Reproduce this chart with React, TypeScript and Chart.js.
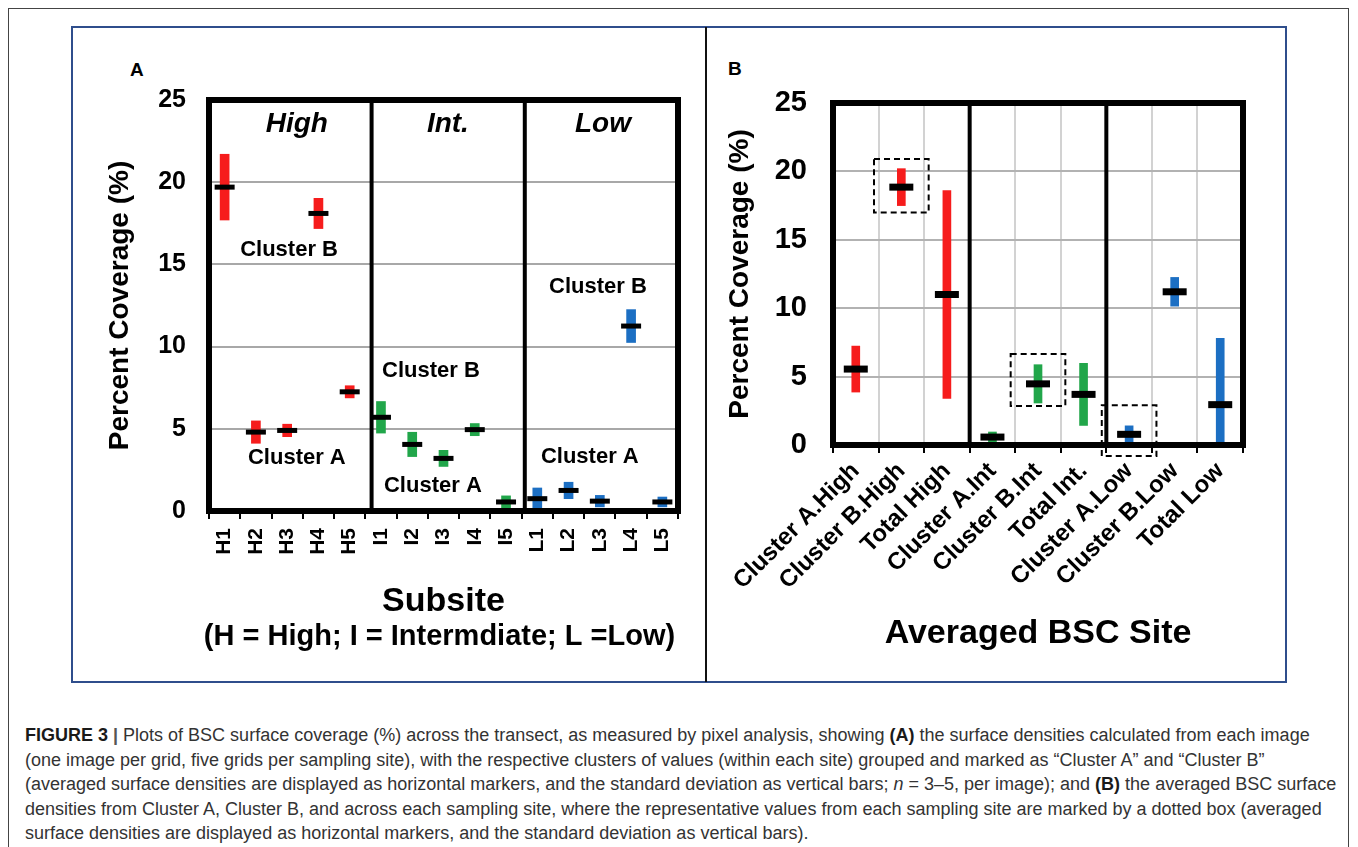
import React, { useEffect, useRef } from "react";
import { Chart, registerables } from "chart.js";

Chart.register(...registerables);

const FONT = "'Liberation Sans', Arial, Helvetica, sans-serif";

// ---------- Panel A data (per subsite) ----------
const subsites = ["H1", "H2", "H3", "H4", "H5", "I1", "I2", "I3", "I4", "I5", "L1", "L2", "L3", "L4", "L5"];
const subsiteMeans = [19.7, 4.8, 4.9, 18.1, 7.25, 5.7, 4.05, 3.2, 4.95, 0.55, 0.75, 1.25, 0.6, 11.25, 0.55];
const subsiteSD = [2.0, 0.68, 0.38, 0.92, 0.37, 0.96, 0.74, 0.49, 0.37, 0.37, 0.65, 0.5, 0.35, 1.0, 0.3];

// ---------- Panel B data (averaged sites) ----------
const averagedSites = [
  "Cluster A.High", "Cluster B.High", "Total High",
  "Cluster A.Int", "Cluster B.Int", "Total Int.",
  "Cluster A.Low", "Cluster B.Low", "Total Low",
];
const averagedMeans = [5.55, 18.85, 11.0, 0.58, 4.47, 3.7, 0.78, 11.2, 2.95];
const averagedSD = [1.68, 1.35, 7.6, 0.37, 1.4, 2.27, 0.62, 1.05, 4.85];

const yTickValues = [0, 5, 10, 15, 20, 25];

// ---------- styles ----------
const siteColors: Record<string, string> = { High: "#f61c1c", Int: "#21a64a", Low: "#1c6fc3" };
const colorForSubsite = (s: string) => (s[0] === "H" ? siteColors.High : s[0] === "I" ? siteColors.Int : siteColors.Low);
const colorForAveraged = (s: string) => (s.includes("High") ? siteColors.High : s.includes("Int") ? siteColors.Int : siteColors.Low);

const annotationsA = [
  { text: "High", at: [2.31, 23.5], font: `italic bold 28px ${FONT}` },
  { text: "Int.", at: [7.14, 23.5], font: `italic bold 28px ${FONT}` },
  { text: "Low", at: [12.1, 23.5], font: `italic bold 28px ${FONT}` },
  { text: "Cluster B", at: [2.06, 15.9], font: `bold 22px ${FONT}` },
  { text: "Cluster B", at: [6.6, 8.5], font: `bold 22px ${FONT}` },
  { text: "Cluster B", at: [11.94, 13.6], font: `bold 22px ${FONT}` },
  { text: "Cluster A", at: [2.31, 3.2], font: `bold 22px ${FONT}` },
  { text: "Cluster A", at: [6.66, 1.5], font: `bold 22px ${FONT}` },
  { text: "Cluster A", at: [11.68, 3.3], font: `bold 22px ${FONT}` },
];

const representativeBoxesB = [
  { index: 1, low: 17.0, high: 20.9, half: 0.6 },
  { index: 4, low: 2.85, high: 6.65, half: 0.6 },
  { index: 6, low: -0.8, high: 2.9, half: 0.6 },
];

const overlayPlugin = {
  id: "overlay",
  afterDatasetsDraw(chart: any, _args: any, opts: any) {
    const { ctx, chartArea: ca } = chart;
    const x = chart.scales.x;
    const y = chart.scales.y;
    ctx.save();
    ctx.strokeStyle = "#000";
    ctx.lineWidth = opts.dividerWidth || 4;
    (opts.dividers || []).forEach((d: number) => {
      const px = x.getPixelForValue(d);
      ctx.beginPath();
      ctx.moveTo(px, ca.top);
      ctx.lineTo(px, ca.bottom);
      ctx.stroke();
    });
    ctx.lineWidth = opts.frameWidth || 6;
    ctx.strokeRect(ca.left, ca.top, ca.right - ca.left, ca.bottom - ca.top);
    ctx.lineWidth = 2;
    ctx.setLineDash([6, 4]);
    (opts.boxes || []).forEach((b: any) => {
      const x0 = x.getPixelForValue(b.index - b.half);
      const x1 = x.getPixelForValue(b.index + b.half);
      const y0 = y.getPixelForValue(b.high);
      const y1 = y.getPixelForValue(b.low);
      ctx.strokeRect(x0, y0, x1 - x0, y1 - y0);
    });
    ctx.setLineDash([]);
    ctx.fillStyle = "#000";
    ctx.textAlign = "center";
    ctx.textBaseline = "middle";
    (opts.labels || []).forEach((l: any) => {
      ctx.font = l.font;
      ctx.fillText(l.text, x.getPixelForValue(l.at[0]), y.getPixelForValue(l.at[1]));
    });
    if (opts.subtitle) {
      ctx.font = opts.subtitle.font;
      ctx.fillText(opts.subtitle.text, (ca.left + ca.right) / 2 - 4, opts.subtitle.y);
    }
    ctx.restore();
  },
};

function makeConfig(p: {
  labels: string[];
  means: number[];
  sds: number[];
  colors: string[];
  barWidth: number;
  markerRadius: number;
  markerThickness: number;
  padding: any;
  yWidth: number;
  xHeight: number;
  rotation: number;
  xTickFont: number;
  xTickPadding: number;
  yTickFont: number;
  yTickPadding: number;
  yTitlePad: number;
  xTitle: string;
  xTitlePad: number;
  xGridOnArea: boolean;
  yGridColor: string;
  xGridColor: string;
  overlay: any;
}): any {
  return {
    type: "bar",
    data: {
      labels: p.labels,
      datasets: [
        {
          type: "line",
          data: p.means,
          showLine: false,
          pointStyle: "line",
          pointRadius: p.markerRadius,
          pointHoverRadius: p.markerRadius,
          pointBorderWidth: p.markerThickness,
          pointHoverBorderWidth: p.markerThickness,
          pointBorderColor: "#000",
          pointBackgroundColor: "#000",
          order: 1,
        },
        {
          type: "bar",
          data: p.means.map((m, i) => [m - p.sds[i], m + p.sds[i]]),
          backgroundColor: p.colors,
          barThickness: p.barWidth,
          borderWidth: 0,
          order: 2,
        },
      ],
    },
    options: {
      animation: false,
      responsive: false,
      devicePixelRatio: 1,
      events: [],
      layout: { padding: p.padding },
      plugins: {
        legend: { display: false },
        tooltip: { enabled: false },
        overlay: p.overlay,
      },
      scales: {
        x: {
          type: "category",
          offset: true,
          border: { display: false },
          grid: {
            display: true,
            offset: true,
            drawOnChartArea: p.xGridOnArea,
            color: p.xGridColor,
            lineWidth: 2,
            drawTicks: true,
            tickLength: 8,
            tickColor: "#000",
            tickWidth: 2,
          },
          ticks: {
            autoSkip: false,
            minRotation: p.rotation,
            maxRotation: p.rotation,
            padding: p.xTickPadding,
            color: "#000",
            font: { family: FONT, size: p.xTickFont, weight: "bold" },
          },
          title: {
            display: true,
            text: p.xTitle,
            color: "#000",
            font: { family: FONT, size: 34, weight: "bold" },
            padding: { top: 0, bottom: p.xTitlePad },
          },
          afterFit: (s: any) => {
            s.height = p.xHeight;
          },
        },
        y: {
          min: 0,
          max: 25,
          border: { display: false },
          grid: { color: p.yGridColor, lineWidth: 2, drawTicks: false },
          afterBuildTicks: (s: any) => {
            s.ticks = yTickValues.map((v) => ({ value: v }));
          },
          ticks: {
            padding: p.yTickPadding,
            color: "#000",
            font: { family: FONT, size: p.yTickFont, weight: "bold" },
          },
          title: {
            display: true,
            text: "Percent Coverage (%)",
            color: "#000",
            font: { family: FONT, size: 28, weight: "bold" },
            padding: { top: p.yTitlePad, bottom: 0 },
          },
          afterFit: (s: any) => {
            s.width = p.yWidth;
          },
        },
      },
    },
    plugins: [overlayPlugin],
  };
}

function ChartCanvas({ left, top, width, height, config }: any) {
  const ref = useRef<HTMLCanvasElement>(null);
  useEffect(() => {
    if (!ref.current) return;
    const chart = new Chart(ref.current, config());
    return () => chart.destroy();
  }, []);
  return (
    <canvas
      ref={ref}
      width={width}
      height={height}
      style={{ position: "absolute", left, top, width, height }}
    />
  );
}

const configA = () =>
  makeConfig({
    labels: subsites,
    means: subsiteMeans,
    sds: subsiteSD,
    colors: subsites.map(colorForSubsite),
    barWidth: 9,
    markerRadius: 10,
    markerThickness: 5,
    padding: { left: 0, top: 72, right: 28, bottom: 0 },
    yWidth: 137,
    xHeight: 171,
    rotation: 90,
    xTickFont: 21,
    xTickPadding: 9,
    yTickFont: 25,
    yTickPadding: 23,
    yTitlePad: 31,
    xTitle: "Subsite",
    xTitlePad: 60,
    xGridOnArea: false,
    yGridColor: "#a8a8a8",
    xGridColor: "#000",
    overlay: {
      dividers: [4.7, 9.6],
      dividerWidth: 4,
      frameWidth: 6,
      labels: annotationsA,
      subtitle: { text: "(H = High; I = Intermdiate; L =Low)", font: `bold 29px ${FONT}`, y: 609 },
    },
  });

const configB = () =>
  makeConfig({
    labels: averagedSites,
    means: averagedMeans,
    sds: averagedSD,
    colors: averagedSites.map(colorForAveraged),
    barWidth: 8,
    markerRadius: 12,
    markerThickness: 7,
    padding: { left: 0, top: 75, right: 42, bottom: 0 },
    yWidth: 125,
    xHeight: 237,
    rotation: 45,
    xTickFont: 24,
    xTickPadding: 4,
    yTickFont: 29,
    yTickPadding: 26,
    yTitlePad: 15,
    xTitle: "Averaged BSC Site",
    xTitlePad: 28,
    xGridOnArea: true,
    yGridColor: "#b2b2b2",
    xGridColor: "#d2d2d2",
    overlay: {
      dividers: [2.5, 5.5],
      dividerWidth: 4,
      frameWidth: 6,
      boxes: representativeBoxesB,
      labels: [],
    },
  });

export default function App() {
  return (
    <div
      style={{
        position: "absolute",
        left: 0,
        top: 0,
        width: 1358,
        height: 847,
        overflow: "hidden",
        background: "#fff",
      }}
    >
      <div
        style={{
          position: "absolute",
          left: 8,
          top: 8,
          width: 1341,
          height: 1000,
          border: "1px solid #444",
          boxSizing: "border-box",
        }}
      />
      <div
        style={{
          position: "absolute",
          left: 71,
          top: 26,
          width: 1216,
          height: 657,
          border: "2px solid #2f4e8c",
          boxSizing: "border-box",
        }}
      />
      <div style={{ position: "absolute", left: 705, top: 27, width: 2, height: 655, background: "#111" }} />
      <div style={{ position: "absolute", left: 130, top: 59, fontFamily: FONT, fontWeight: "bold", fontSize: 19 }}>A</div>
      <div style={{ position: "absolute", left: 728, top: 58, fontFamily: FONT, fontWeight: "bold", fontSize: 19 }}>B</div>
      <ChartCanvas left={72} top={28} width={634} height={654} config={configA} />
      <ChartCanvas left={708} top={28} width={577} height={654} config={configB} />
      <div
        style={{
          position: "absolute",
          left: 25,
          top: 723,
          fontFamily: FONT,
          fontSize: 18,
          lineHeight: "24.5px",
          color: "#333",
          whiteSpace: "nowrap",
        }}
      >
        <b style={{ color: "#1a1a1a" }}>FIGURE 3</b> <b style={{ color: "#555" }}>|</b> Plots of BSC surface coverage (%) across the transect, as measured by pixel analysis, showing <b style={{ color: "#1a1a1a" }}>(A)</b> the surface densities calculated from each image
        <br />
        (one image per grid, five grids per sampling site), with the respective clusters of values (within each site) grouped and marked as “Cluster A” and “Cluster B”
        <br />
        (averaged surface densities are displayed as horizontal markers, and the standard deviation as vertical bars; <i>n</i> = 3–5, per image); and <b style={{ color: "#1a1a1a" }}>(B)</b> the averaged BSC surface
        <br />
        densities from Cluster A, Cluster B, and across each sampling site, where the representative values from each sampling site are marked by a dotted box (averaged
        <br />
        surface densities are displayed as horizontal markers, and the standard deviation as vertical bars).
      </div>
    </div>
  );
}
